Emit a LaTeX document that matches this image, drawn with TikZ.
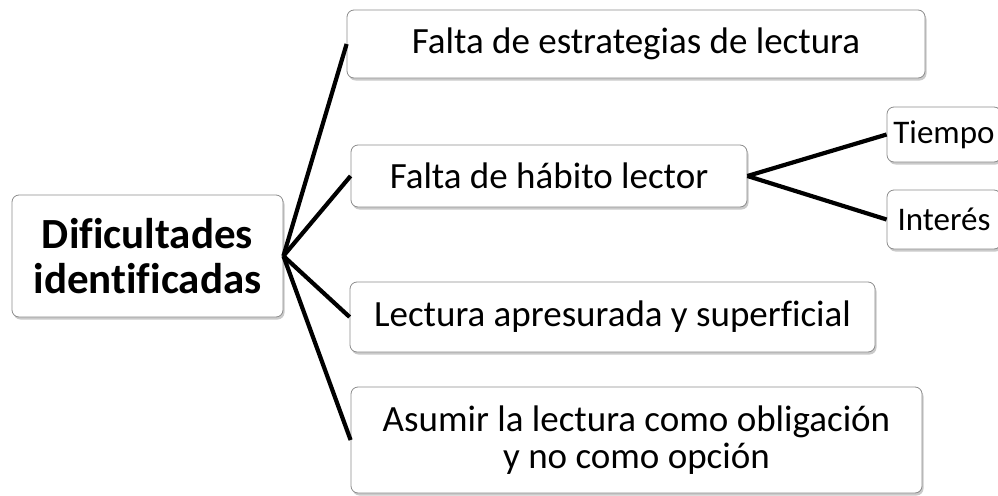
\documentclass[tikz,border=0pt]{standalone}
\usepackage{fontspec}
\setmainfont[Ligatures=NoCommon]{Carlito}
\usetikzlibrary{shadows}
\begin{document}
\begin{tikzpicture}[x=1pt,y=-1pt,
  box/.style={draw=black!45, line width=0.8pt, rounded corners=7pt, fill=white,
    inner sep=0pt, align=center, text=black,
    drop shadow={shadow xshift=1.5pt, shadow yshift=-2.5pt, opacity=0.35, fill=black!60}},
  big/.style={font=\fontsize{37}{37}\selectfont},
  small/.style={font=\fontsize{33}{36}\selectfont},
  link/.style={line width=4.2pt, black}]
\useasboundingbox (0,0) rectangle (998,495);
\node[box, minimum width=271pt, minimum height=122pt, font=\bfseries\fontsize{43}{45}\selectfont] (root) at (147.5,256) {Dificultades\\identificadas};
\node[box, big, minimum width=578pt, minimum height=68pt] (b1) at (636,44) {Falta de estrategias de lectura};
\node[box, big, minimum width=396pt, minimum height=62pt] (b2) at (549,176) {Falta de hábito lector};
\node[box, big, minimum width=525pt, minimum height=70pt] (b3) at (612.5,317) {Lectura apresurada y superficial};
\node[box, big, minimum width=571pt, minimum height=106pt] (b4) at (636.5,440) {Asumir la lectura como obligación\\y no como opción};
\node[box, small, minimum width=114pt, minimum height=55pt] (t) at (944,134.5) {Tiempo};
\node[box, small, minimum width=114pt, minimum height=59pt] (i) at (944,219.5) {Interés};
\draw[link] (root.east) -- (b1.west);
\draw[link] (root.east) -- (b2.west);
\draw[link] (root.east) -- (b3.west);
\draw[link] (root.east) -- (b4.west);
\draw[link] (b2.east) -- (t.west);
\draw[link] (b2.east) -- (i.west);
\end{tikzpicture}
\end{document}
